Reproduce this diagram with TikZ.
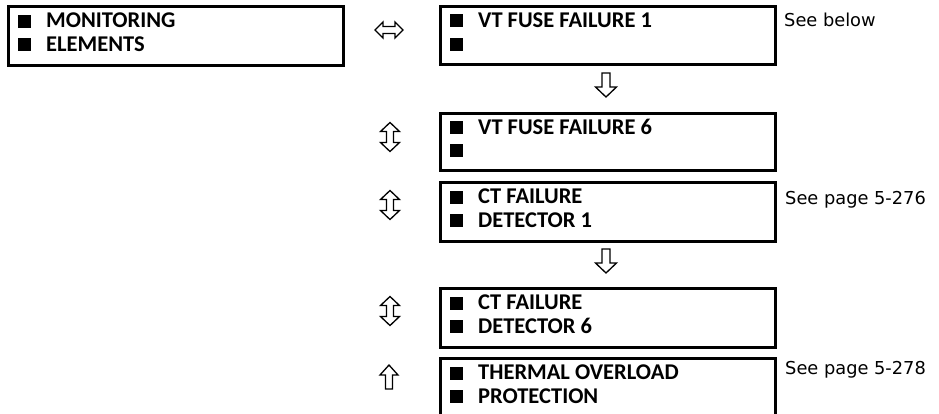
\documentclass[tikz,border=0pt]{standalone}
\usepackage{fontspec}
\setmainfont{Carlito}
\newfontfamily\symf{DejaVu Sans}
\newcommand\sqb{\rule{13pt}{13pt}\hspace{15pt}}
\begin{document}
\begin{tikzpicture}[x=1pt,y=-1pt,
  menuframe/.style={draw, line width=3pt, anchor=north west, minimum width=335pt, inner sep=0pt, rectangle},
  itemline/.style={anchor=base west, inner sep=0pt, font=\bfseries\fontsize{22.5}{24}\selectfont},
  note/.style={anchor=base west, inner sep=0pt, font=\symf\fontsize{17.8}{22}\selectfont},
  arrowsym/.style={draw=black, fill=white, line width=1.3pt, line join=miter},
]
\useasboundingbox (0,0) rectangle (939,413);
% left box
\node[menuframe, minimum height=58.5pt] (L) at (6.5,5) {};
\node[itemline] (L1) at (18,27.5) {\sqb MONITORING};
\node[itemline] (L2) at (18,51) {\sqb ELEMENTS};
% right boxes
\node[menuframe, minimum height=58pt] (B1) at (438.5,5) {};
\node[itemline] (B1a) at (450,27) {\sqb VT FUSE FAILURE 1};
\node[itemline] (B1b) at (450,50.5) {\sqb};
\node[menuframe, minimum height=57pt] (B2) at (438.5,112) {};
\node[itemline] (B2a) at (450,134) {\sqb VT FUSE FAILURE 6};
\node[itemline] (B2b) at (450,157) {\sqb};
\node[menuframe, minimum height=59pt] (B3) at (438.5,181) {};
\node[itemline] (B3a) at (450,203.5) {\sqb CT FAILURE};
\node[itemline] (B3b) at (450,227) {\sqb DETECTOR 1};
\node[menuframe, minimum height=59pt] (B4) at (438.5,287) {};
\node[itemline] (B4a) at (450,309.5) {\sqb CT FAILURE};
\node[itemline] (B4b) at (450,333) {\sqb DETECTOR 6};
\node[menuframe, minimum height=64pt] (B5) at (438.5,357) {};
\node[itemline] (B5a) at (450,379.5) {\sqb THERMAL OVERLOAD};
\node[itemline] (B5b) at (450,403) {\sqb PROTECTION};
% notes
\node[note] (N1) at (784,26) {See below};
\node[note] (N3) at (785,204) {See page 5-276};
\node[note] (N5) at (785,374) {See page 5-278};
% white arrow symbols
% left-right
\draw[arrowsym, shift={(389,30)}] (-14,0) -- (-6,-8) -- (-6,-3.5) -- (6,-3.5) -- (6,-8) -- (14,0) -- (6,8) -- (6,3.5) -- (-6,3.5) -- (-6,8) -- cycle;
% down arrows
\foreach \cx/\cy in {606/85, 606/261}
  \draw[arrowsym, shift={(\cx,\cy)}] (-4,-12) -- (4,-12) -- (4,2) -- (10.5,2) -- (0,12) -- (-10.5,2) -- (-4,2) -- cycle;
% up-down arrows
\foreach \cy in {137, 205, 311}
  \draw[arrowsym, shift={(390,\cy)}] (0,-14.5) -- (9.5,-5.5) -- (3.5,-5.5) -- (3.5,5.5) -- (9.5,5.5) -- (0,14.5) -- (-9.5,5.5) -- (-3.5,5.5) -- (-3.5,-5.5) -- (-9.5,-5.5) -- cycle;
% up arrow
\draw[arrowsym, shift={(389,377)}] (-3.5,12) -- (3.5,12) -- (3.5,-2) -- (9,-2) -- (0,-12) -- (-9,-2) -- (-3.5,-2) -- cycle;
\end{tikzpicture}
\end{document}
